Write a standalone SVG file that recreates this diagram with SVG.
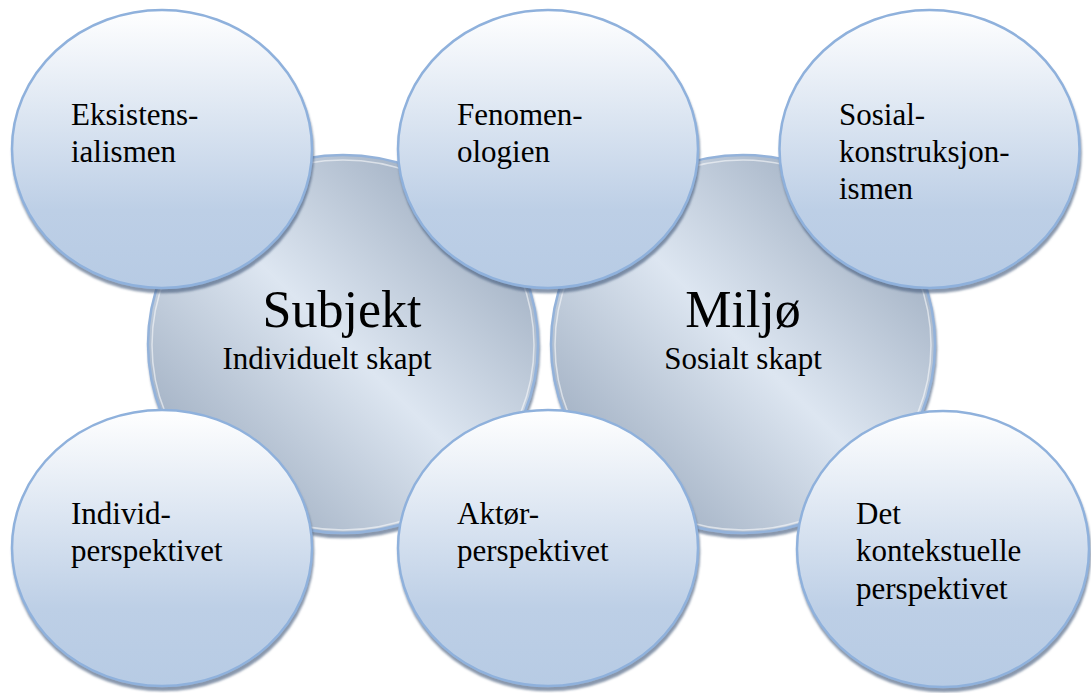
<svg xmlns="http://www.w3.org/2000/svg" width="1091" height="693" viewBox="0 0 1091 693">
  <defs>
    <linearGradient id="gSmall" x1="0" y1="0" x2="0" y2="1">
      <stop offset="0" stop-color="#ffffff"/>
      <stop offset="0.72" stop-color="#bdcfe6"/>
      <stop offset="1" stop-color="#b7cbe4"/>
    </linearGradient>
    <linearGradient id="gBig" x1="0" y1="1" x2="1" y2="0">
      <stop offset="0" stop-color="#8a9bb1"/>
      <stop offset="0.5" stop-color="#dde6f1"/>
      <stop offset="1" stop-color="#8a9bb1"/>
    </linearGradient>
    <filter id="shadow" x="-10%" y="-10%" width="120%" height="125%">
      <feGaussianBlur in="SourceAlpha" stdDeviation="1.2"/>
      <feOffset dx="1" dy="3.5" result="o"/>
      <feFlood flood-color="#4a6080" flood-opacity="0.65"/>
      <feComposite in2="o" operator="in"/>
      <feMerge>
        <feMergeNode/>
        <feMergeNode in="SourceGraphic"/>
      </feMerge>
    </filter>
  </defs>
  <style>
    .big { fill: url(#gBig); stroke: #93b2da; stroke-width: 2.5; filter: url(#shadow); }
    .hl { fill: none; stroke: #ffffff; stroke-opacity: 0.55; stroke-width: 1.5; }
    .small { fill: url(#gSmall); stroke: #8fb1dc; stroke-width: 2.5; filter: url(#shadow); }
    text { fill: #000000; }
    .t { font-size: 31px; }
    .title { font-size: 52px; text-anchor: middle; }
    .sub { font-size: 31px; text-anchor: middle; }
  </style>

  <g id="connectors"></g>

  <g font-family="'Liberation Serif', 'DejaVu Serif', serif">
  <g id="subjekt">
    <ellipse class="big" cx="343" cy="344" rx="195" ry="189"/>
    <ellipse class="hl" cx="343" cy="345" rx="191" ry="185"/>
    <text class="title" x="342" y="327">Subjekt</text>
    <text class="sub" x="327" y="369">Individuelt skapt</text>
  </g>

  <g id="miljo">
    <ellipse class="big" cx="743" cy="344" rx="192" ry="189"/>
    <ellipse class="hl" cx="743" cy="345" rx="188" ry="185"/>
    <text class="title" x="743" y="327">Miljø</text>
    <text class="sub" x="743" y="369">Sosialt skapt</text>
  </g>

  <g id="eksistensialismen">
    <ellipse class="small" cx="162" cy="149" rx="150" ry="139"/>
    <text class="t" x="71" y="125">Eksistens-</text>
    <text class="t" x="71" y="162">ialismen</text>
  </g>

  <g id="fenomenologien">
    <ellipse class="small" cx="548" cy="149" rx="150" ry="139"/>
    <text class="t" x="457" y="125">Fenomen-</text>
    <text class="t" x="457" y="162">ologien</text>
  </g>

  <g id="sosialkonstruksjonismen">
    <ellipse class="small" cx="929.5" cy="149" rx="150" ry="139"/>
    <text class="t" x="839" y="125">Sosial-</text>
    <text class="t" x="839" y="162">konstruksjon-</text>
    <text class="t" x="839" y="199">ismen</text>
  </g>

  <g id="individperspektivet">
    <ellipse class="small" cx="162" cy="548" rx="150" ry="138"/>
    <text class="t" x="71" y="524">Individ-</text>
    <text class="t" x="71" y="561">perspektivet</text>
  </g>

  <g id="aktorperspektivet">
    <ellipse class="small" cx="548" cy="548" rx="150" ry="138"/>
    <text class="t" x="457" y="524">Aktør-</text>
    <text class="t" x="457" y="561">perspektivet</text>
  </g>

  <g id="kontekstuelle">
    <ellipse class="small" cx="943" cy="549" rx="146" ry="138"/>
    <text class="t" x="856" y="524">Det</text>
    <text class="t" x="856" y="561">kontekstuelle</text>
    <text class="t" x="856" y="599">perspektivet</text>
  </g>
  </g>
</svg>
